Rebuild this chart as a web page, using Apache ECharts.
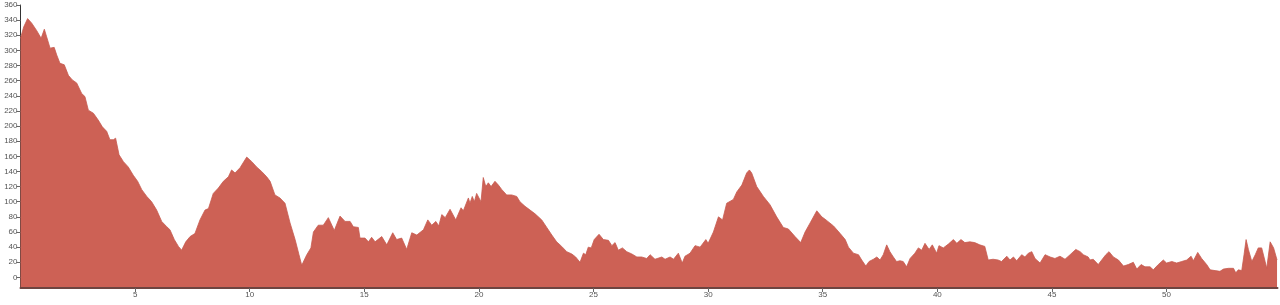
<!DOCTYPE html>
<html>
<head>
<meta charset="utf-8">
<script src="https://cdn.jsdelivr.net/npm/echarts@6/dist/echarts.min.js"></script>
<style>
html,body{margin:0;padding:0;background:#fff;}
#chart{width:1280px;height:305px;}
</style>
</head>
<body>
<div id="chart"></div>
<script>
const distanceKm = [0.0,0.14,0.31,0.49,0.71,0.9,1.04,1.14,1.29,1.47,1.58,1.72,1.91,2.09,2.26,2.45,2.67,2.81,2.96,3.18,3.39,3.57,3.76,3.9,4.05,4.15,4.3,4.49,4.7,4.92,5.11,5.29,5.51,5.72,5.94,6.16,6.38,6.52,6.71,6.89,7.03,7.21,7.4,7.61,7.83,8.05,8.2,8.41,8.63,8.85,9.07,9.21,9.36,9.58,9.87,10.09,10.3,10.52,10.74,10.89,11.1,11.32,11.54,11.76,11.98,12.15,12.27,12.49,12.67,12.78,12.99,13.21,13.43,13.69,13.94,14.16,14.38,14.52,14.74,14.81,15.03,15.18,15.32,15.47,15.76,15.98,16.24,16.41,16.63,16.85,17.07,17.29,17.58,17.77,17.94,18.12,18.25,18.38,18.53,18.74,18.99,19.22,19.32,19.54,19.61,19.71,19.8,19.9,20.09,20.19,20.3,20.41,20.53,20.7,20.85,21.0,21.21,21.43,21.65,21.79,22.01,22.23,22.45,22.74,22.96,23.18,23.39,23.61,23.83,24.05,24.22,24.41,24.56,24.66,24.77,24.9,25.03,25.24,25.43,25.65,25.8,25.94,26.08,26.26,26.45,26.67,26.89,27.1,27.32,27.47,27.68,27.98,28.12,28.34,28.49,28.7,28.87,28.99,29.21,29.43,29.65,29.9,30.0,30.23,30.45,30.63,30.81,31.1,31.25,31.47,31.68,31.8,31.9,32.12,32.41,32.7,32.99,33.28,33.5,33.79,34.04,34.23,34.45,34.74,34.96,35.1,35.18,35.47,35.76,35.98,36.12,36.34,36.56,36.7,36.88,37.02,37.21,37.36,37.5,37.64,37.79,37.93,38.08,38.22,38.37,38.51,38.66,38.81,39.02,39.17,39.32,39.46,39.64,39.78,39.97,40.07,40.26,40.48,40.7,40.85,41.03,41.2,41.42,41.63,41.85,42.07,42.22,42.43,42.65,42.8,43.03,43.17,43.32,43.46,43.68,43.82,43.97,44.12,44.26,44.48,44.7,44.92,45.13,45.35,45.57,45.79,46.04,46.23,46.37,46.58,46.66,46.8,47.02,47.17,47.35,47.49,47.68,47.9,48.12,48.33,48.55,48.7,48.89,49.06,49.28,49.42,49.64,49.86,50.0,50.23,50.44,50.66,50.88,51.07,51.17,51.36,51.53,51.75,51.9,52.12,52.33,52.48,52.7,52.92,53.02,53.13,53.28,53.38,53.47,53.57,53.72,53.87,54.0,54.15,54.3,54.37,54.52,54.67,54.82];
const elevation = [316,331,342,336,326,316,328,318,303,304,294,283,281,267,261,257,243,239,221,217,208,199,193,182,182,184,162,153,146,135,127,116,107,100,89,74,67,63,50,41,36,47,54,58,76,89,91,111,118,127,133,142,138,145,159,153,146,140,133,127,109,105,98,72,50,30,16,30,39,60,69,69,79,62,81,74,74,67,66,52,52,47,53,47,54,43,59,50,52,37,59,56,63,76,69,74,68,83,79,90,76,92,88,105,98,107,100,111,100,132,120,125,120,127,122,116,109,109,107,100,94,89,84,76,66,56,47,41,34,31,27,20,32,30,40,39,50,57,50,49,42,46,36,39,34,31,27,27,25,30,24,27,24,27,24,32,19,28,32,42,40,50,45,60,80,76,98,103,113,122,138,142,138,120,107,96,80,66,64,54,46,60,72,88,80,77,78,68,58,50,40,32,30,23,15,21,24,27,23,30,43,34,27,21,22,21,14,25,32,39,36,45,37,43,32,42,39,44,50,45,50,46,47,46,43,41,23,24,23,21,28,23,27,22,30,27,32,34,25,19,30,27,25,28,24,30,37,34,30,27,23,24,17,23,30,34,27,23,15,17,20,11,17,14,14,10,17,23,19,21,19,21,23,28,22,33,25,17,10,9,8,11,12,12,6,10,9,30,50,37,21,30,39,39,21,12,47,39,23];
const xTickValues = [5,10,15,20,25,30,35,40,45,50];
const yTickValues = [0,20,40,60,80,100,120,140,160,180,200,220,240,260,280,300,320,340,360];

const points = distanceKm.map((d, i) => [d, elevation[i]]);
const chart = echarts.init(document.getElementById('chart'), null, {renderer: 'canvas'});
chart.setOption({
  animation: false,
  grid: {left: 20.5, right: 2.5, top: 5, bottom: 17},
  xAxis: {
    type: 'value', min: 0, max: 54.84, z: 5,
    axisLine: {show: true, onZero: false, lineStyle: {color: '#6e4440', width: 2}},
    axisTick: {show: true, length: 4, customValues: xTickValues, lineStyle: {color: '#666'}},
    axisLabel: {customValues: xTickValues, fontSize: 8, color: '#555', margin: 3, fontFamily: 'Liberation Sans, Arial, sans-serif'},
    splitLine: {show: false}
  },
  yAxis: {
    type: 'value', min: -14, max: 360, z: 0,
    axisLine: {show: true, onZero: false, lineStyle: {color: '#333', width: 1}},
    axisTick: {show: true, length: 4, customValues: yTickValues, lineStyle: {color: '#666'}},
    axisLabel: {customValues: yTickValues, fontSize: 8, color: '#555', margin: 3, fontFamily: 'Liberation Sans, Arial, sans-serif'},
    splitLine: {show: false}
  },
  series: [{
    type: 'line',
    data: points,
    showSymbol: false,
    smooth: false,
    lineStyle: {color: '#c65c51', width: 0.8},
    areaStyle: {color: '#cd6155', opacity: 1, origin: 'start'},
    z: 2
  }]
});
</script>
</body>
</html>
